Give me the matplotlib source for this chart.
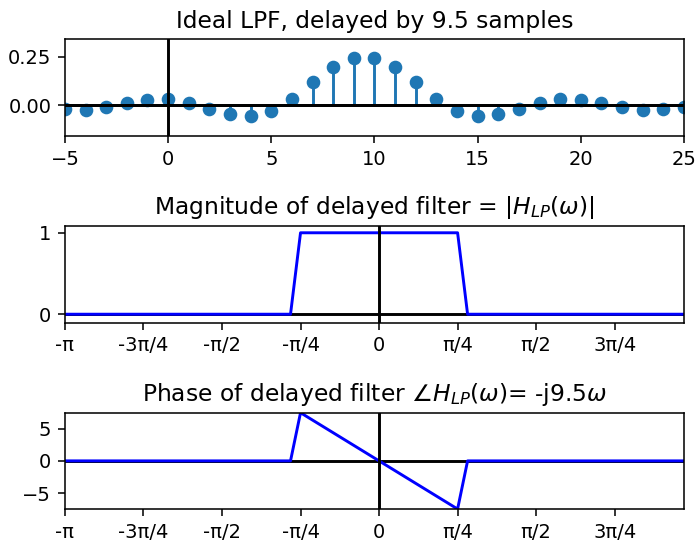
import numpy as np
import matplotlib
matplotlib.use('Agg')
import matplotlib.pyplot as plt

# 시간 영역 : 9.5 샘플 지연된 이상적 LPF 임펄스 응답 (n = -5 ~ 25)
n = list(range(-5, 26))
h = [-0.0203, -0.0218, -0.0097, 0.0106, 0.0280, 0.0310, 0.0143, -0.0162,
     -0.0452, -0.0535, -0.0271, 0.0348, 0.1176, 0.1961, 0.2436, 0.2436,
     0.1961, 0.1176, 0.0348, -0.0271, -0.0535, -0.0452, -0.0162, 0.0143,
     0.0310, 0.0280, 0.0106, -0.0097, -0.0218, -0.0203, -0.0079]

# 주파수 영역 : 꺾이는 점들만 적어둠 (오른쪽 끝은 π보다 조금 작음)
w = [-3.1416, -0.8854, -0.7854, 0.7854, 0.8854, 3.0500]
mag = [0, 0, 1, 1, 0, 0]
phase = [0, 0, 7.46, -7.46, 0, 0]

tick_pos = [-np.pi, -3*np.pi/4, -np.pi/2, -np.pi/4, 0, np.pi/4, np.pi/2, 3*np.pi/4]
tick_lbl = ['-π', '-3π/4', '-π/2', '-π/4', '0', 'π/4', 'π/2', '3π/4']

fig, axs = plt.subplots(3, 1, figsize=(698/140, 541/140), dpi=140)
fig.subplots_adjust(left=0.093, right=0.98, top=0.927, bottom=0.0586, hspace=0.932)

# 임펄스 응답
ax = axs[0]
ax.stem(n, h, basefmt='k-')
ax.axhline(0, color='k')
ax.axvline(0, color='k')
ax.set_xlim(-5, 25)
ax.set_ylim(-0.157, 0.338)
ax.set_title('Ideal LPF, delayed by 9.5 samples')

# 크기 응답
ax = axs[1]
ax.axhline(0, color='k')
ax.plot(w, mag, 'b')
ax.axvline(0, color='k')
ax.set_xlim(w[0], w[-1])
ax.set_ylim(-0.104, 1.082)
ax.set_yticks([0, 1])
ax.set_xticks(tick_pos)
ax.set_xticklabels(tick_lbl)
ax.set_title('Magnitude of delayed filter = $|H_{LP}(\\omega)|$')

# 위상 응답
ax = axs[2]
ax.axhline(0, color='k')
ax.plot(w, phase, 'b')
ax.axvline(0, color='k')
ax.set_xlim(w[0], w[-1])
ax.set_ylim(-7.5, 7.46)
ax.set_xticks(tick_pos)
ax.set_xticklabels(tick_lbl)
ax.set_title('Phase of delayed filter $\\angle H_{LP}(\\omega)$= -j9.5$\\omega$')

plt.savefig('out.png', dpi=140)
